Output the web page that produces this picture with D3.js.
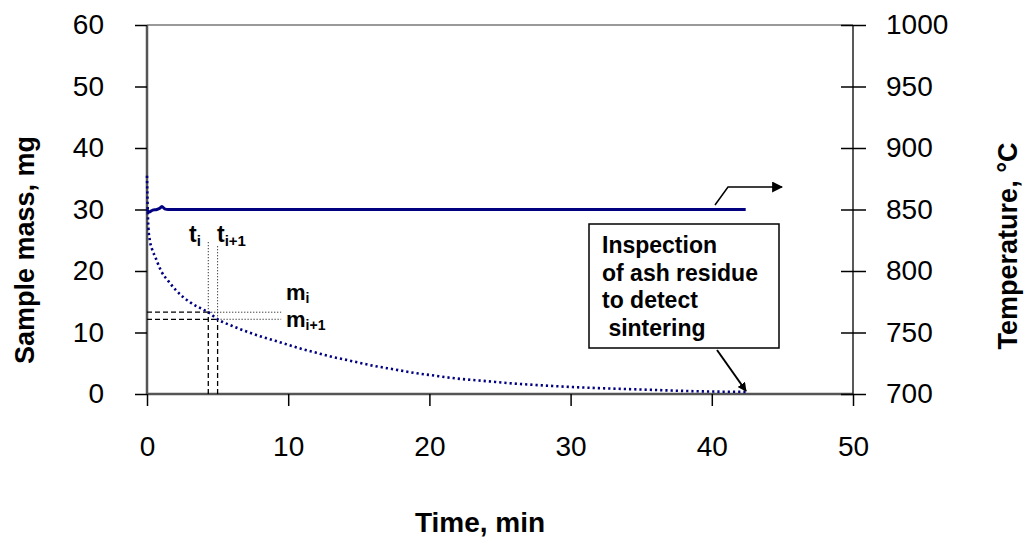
<!DOCTYPE html>
<html><head><meta charset="utf-8">
<script src="https://cdn.jsdelivr.net/npm/d3@7/dist/d3.min.js"></script>
<style>body{margin:0;background:#fff}svg{display:block}text{font-family:"Liberation Sans",Arial,sans-serif}</style>
</head><body><svg id="c" width="1028" height="540"></svg>
<script>
// Data
const massTime = [0,0.05,0.1,0.2,0.35,0.6,1,1.5,2,3,4,4.34,5,6,7,8,9,10,11,12,13,14,15,16,17,18,19,20,22,24,26,28,30,32,34,36,38,40,42.4];
const massValues = [35.5,30,27,25,23.6,22.2,20,18.4,17,15,13.7,13.3,12.15,11.1,10.2,9.4,8.7,8.0,7.3,6.7,6.1,5.6,5.1,4.6,4.2,3.8,3.4,3.1,2.5,2.1,1.7,1.4,1.15,0.95,0.8,0.65,0.5,0.4,0.35];
const tempTime = [0,0.15,0.4,0.7,0.9,1.05,1.25,1.5,42.4];
const tempValues = [850,848,849.5,850,851,852.5,850.5,850,850];
const massTicks = [0,10,20,30,40,50,60];
const tempTicks = [700,750,800,850,900,950,1000];
const timeTicks = [0,10,20,30,40,50];
const stepT = [4.34,5.0];   // t_i, t_i+1
const stepM = [13.3,12.15]; // m_i, m_i+1
const calloutLines = ["Inspection","of ash residue","to detect"," sintering"];

const svg = d3.select("#c");
const L=147,R=853,T=25,B=394;
const x = d3.scaleLinear().domain([0,50]).range([L,R]);
const y = d3.scaleLinear().domain([0,60]).range([B,T]);
const y2 = d3.scaleLinear().domain([700,1000]).range([B,T]);

const defs = svg.append("defs");
defs.append("marker").attr("id","ah").attr("viewBox","0 0 10 10").attr("refX",9).attr("refY",5)
  .attr("markerWidth",9).attr("markerHeight",9).attr("markerUnits","userSpaceOnUse").attr("orient","auto")
  .append("path").attr("d","M0,0L10,5L0,10z").attr("fill","#000");
defs.append("marker").attr("id","ah2").attr("viewBox","0 0 10 10").attr("refX",9).attr("refY",5)
  .attr("markerWidth",11).attr("markerHeight",11).attr("markerUnits","userSpaceOnUse").attr("orient","auto")
  .append("path").attr("d","M0,0L10,5L0,10z").attr("fill","#000");

// frame
svg.append("line").attr("x1",L).attr("x2",R).attr("y1",T).attr("y2",T).attr("stroke","#999").attr("stroke-width",2);

// axes
const fs = "28px";
const gL = svg.append("g").attr("transform",`translate(${L},0)`).call(d3.axisLeft(y).tickValues(massTicks).tickSize(12).tickPadding(31).tickFormat(d3.format("d")));
const gB = svg.append("g").attr("transform",`translate(0,${B})`).call(d3.axisBottom(x).tickValues(timeTicks).tickSize(12).tickPadding(30).tickFormat(d3.format("d")));
const gR = svg.append("g").attr("transform",`translate(${R},0)`).call(d3.axisRight(y2).tickValues(tempTicks).tickSize(13).tickPadding(20).tickFormat(d3.format("d")));
gR.selectAll(".tick line").attr("x1",-12);
[gL,gB,gR].forEach(g=>{
  g.selectAll(".tick text").attr("font-size",fs).attr("fill","#000").attr("font-family","Liberation Sans, Arial, sans-serif");
  g.selectAll(".tick line").attr("stroke","#000").attr("stroke-width",1.5);
});
gL.select(".domain").attr("stroke","#555").attr("stroke-width",2.5).attr("d",`M0,${T}V${B}`);
gB.select(".domain").attr("stroke","#555").attr("stroke-width",2.5).attr("d",`M${L},0H${R}`);
gR.select(".domain").attr("stroke","#222").attr("stroke-width",1.5).attr("d",`M0,${T}V${B}`);
gB.selectAll(".tick text").attr("dy","0.71em");

// axis titles
svg.append("text").attr("x",480).attr("y",532).attr("text-anchor","middle").attr("font-size","28px").attr("font-weight","bold").text("Time, min");
svg.append("text").attr("transform","translate(34,250) rotate(-90)").attr("text-anchor","middle").attr("font-size","27px").attr("font-weight","bold").text("Sample mass, mg");
svg.append("text").attr("transform","translate(1017,246) rotate(-90)").attr("text-anchor","middle").attr("font-size","27px").attr("font-weight","bold").text("Temperature, °C");

// temperature line
svg.append("path").datum(tempTime.map((t,i)=>[t,tempValues[i]]))
  .attr("d",d3.line().x(d=>x(d[0])).y(d=>y2(d[1])).curve(d3.curveMonotoneX))
  .attr("fill","none").attr("stroke","#000080").attr("stroke-width",3);

// step guides
const g2 = svg.append("g").attr("stroke","#000").attr("fill","none");
const guideTop = [241,246];
stepT.forEach((t,i)=>{
  g2.append("line").attr("x1",x(t)).attr("x2",x(t)).attr("y1",B).attr("y2",y(stepM[i])).attr("stroke-width",1.3).attr("stroke-dasharray","5,3");
  g2.append("line").attr("x1",x(t)).attr("x2",x(t)).attr("y1",y(stepM[i])).attr("y2",guideTop[i]).attr("stroke-width",1).attr("stroke-dasharray","1,2");
});
stepM.forEach((m,i)=>{
  g2.append("line").attr("x1",L).attr("x2",x(stepT[i])).attr("y1",y(m)).attr("y2",y(m)).attr("stroke-width",1.3).attr("stroke-dasharray","5,3");
  g2.append("line").attr("x1",x(stepT[i])).attr("x2",x(9.5)).attr("y1",y(m)).attr("y2",y(m)).attr("stroke-width",1).attr("stroke-dasharray","1,2");
});

// mass curve (dotted)
svg.append("path").datum(massTime.map((t,i)=>[t,massValues[i]]))
  .attr("d",d3.line().x(d=>x(d[0])).y(d=>y(d[1])).curve(d3.curveMonotoneX))
  .attr("fill","none").attr("stroke","#000080").attr("stroke-width",2.6).attr("stroke-dasharray","2.2,3");

// labels t_i, m_i
function subLabel(px,py,main,sub,fsz,ssz,dy){
  const t = svg.append("text").attr("x",px).attr("y",py).attr("font-size",fsz+"px").attr("font-weight","bold");
  t.append("tspan").text(main);
  t.append("tspan").attr("font-size",ssz+"px").attr("dy",dy).text(sub);
}
subLabel(189,242,"t","i",23,15,4);
subLabel(217,242,"t","i+1",23,15,4);
subLabel(286,300,"m","i",22,14,3);
subLabel(286,327,"m","i+1",22,14,3);

// callout box
svg.append("rect").attr("x",589).attr("y",224).attr("width",190).attr("height",124).attr("fill","#fff").attr("stroke","#000").attr("stroke-width",1.5);
const ct = svg.append("text").attr("font-size","23px").attr("font-weight","bold").attr("xml:space","preserve");
calloutLines.forEach((s,i)=>ct.append("tspan").attr("x",602).attr("y",253+i*27.5).text(s));
svg.append("line").attr("x1",717).attr("y1",350).attr("x2",746).attr("y2",391).attr("stroke","#000").attr("stroke-width",2).attr("marker-end","url(#ah)");

// temperature arrow
svg.append("path").attr("d","M715,205L728,187L782,187").attr("fill","none").attr("stroke","#000").attr("stroke-width",1.5).attr("marker-end","url(#ah2)");
</script></body></html>
